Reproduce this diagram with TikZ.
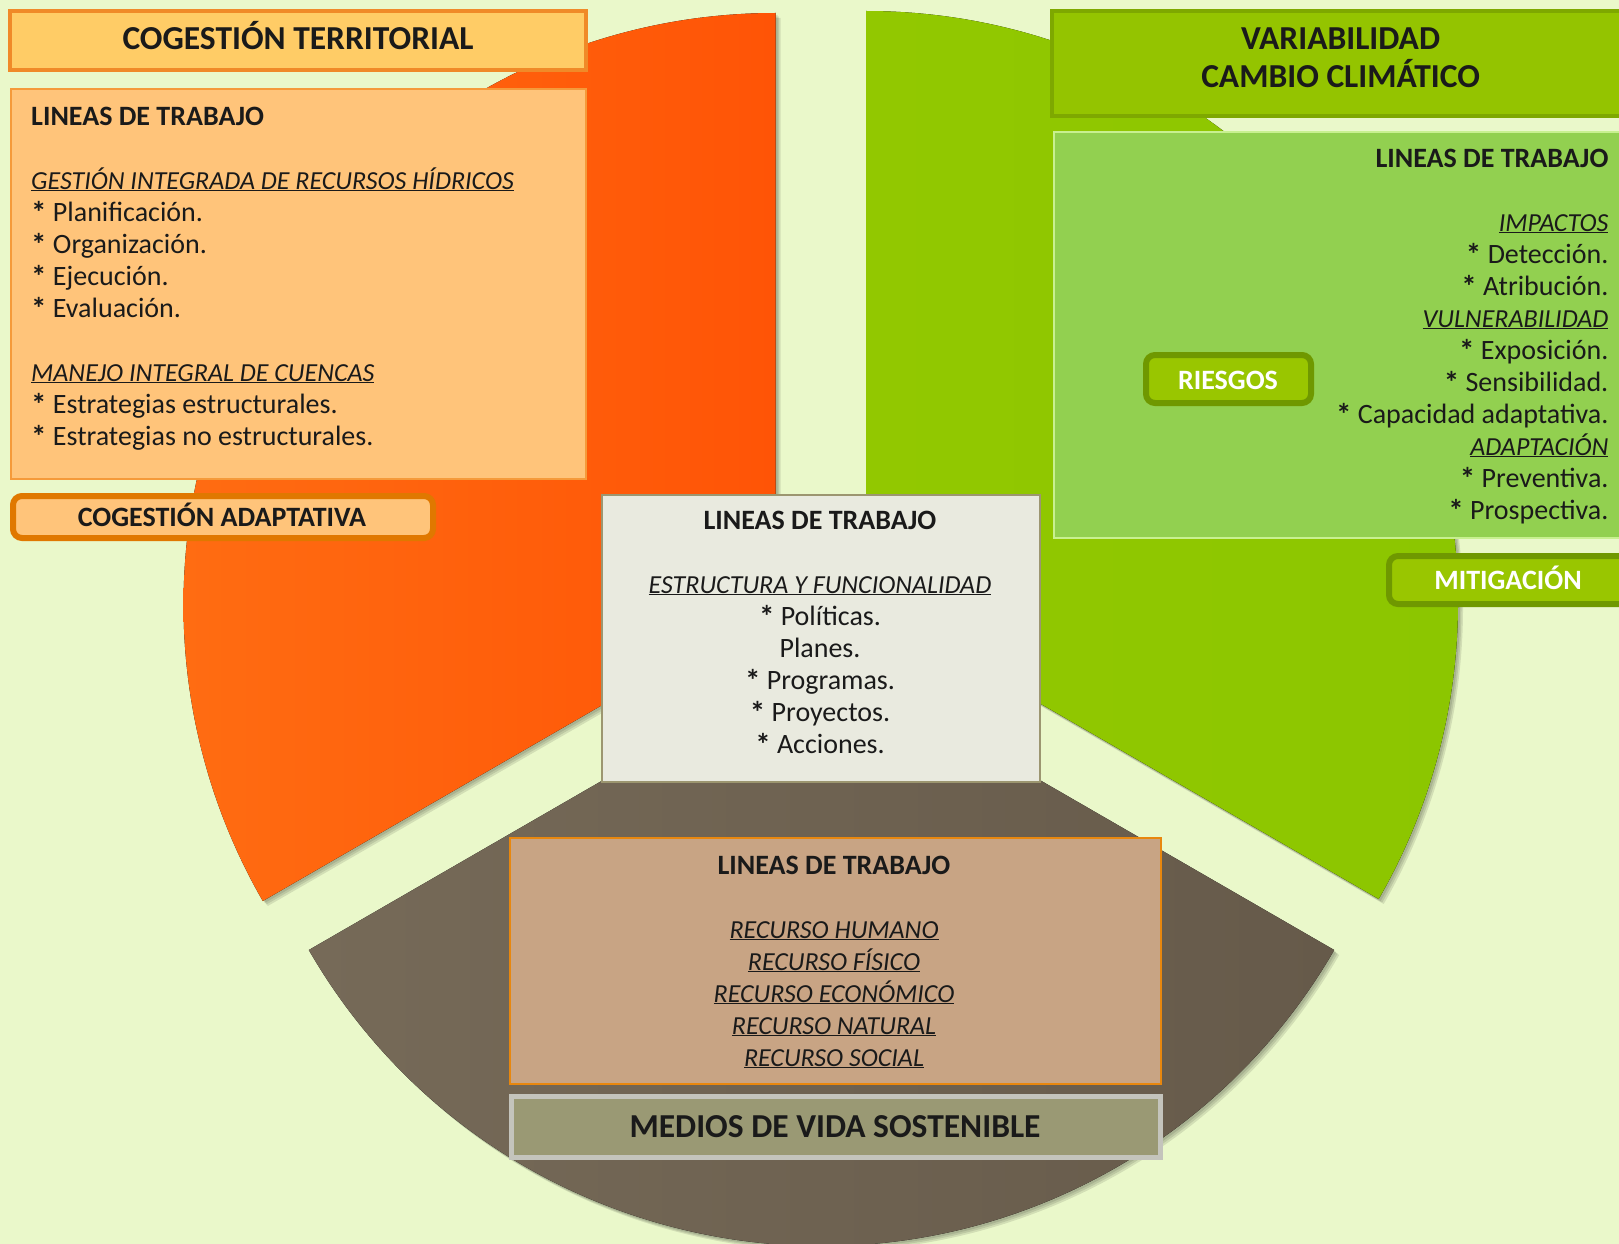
\documentclass[tikz,border=0pt]{standalone}
\usepackage{fontspec}
\setmainfont{Carlito}

\definecolor{bg}{RGB}{234,248,202}
\definecolor{oraL}{RGB}{255,108,18}
\definecolor{oraR}{RGB}{255,84,6}
\definecolor{grnL}{RGB}{146,200,0}
\definecolor{grnM}{RGB}{162,226,0}
\definecolor{grnR}{RGB}{140,198,0}
\definecolor{brnL}{RGB}{118,106,88}
\definecolor{brnR}{RGB}{102,90,74}
\definecolor{ttlfill}{RGB}{255,204,102}
\definecolor{ttlline}{RGB}{240,138,40}
\definecolor{peach}{RGB}{255,196,122}
\definecolor{peachline}{RGB}{245,154,58}
\definecolor{adaptline}{RGB}{224,120,0}
\definecolor{hdrfill}{RGB}{148,196,0}
\definecolor{hdrline}{RGB}{126,168,0}
\definecolor{lgreen}{RGB}{146,208,80}
\definecolor{lgreenline}{RGB}{200,240,144}
\definecolor{btnfill}{RGB}{153,198,0}
\definecolor{btnline}{RGB}{111,152,0}
\definecolor{ctrfill}{RGB}{233,234,223}
\definecolor{ctrline}{RGB}{156,150,112}
\definecolor{tan}{RGB}{200,164,132}
\definecolor{tanline}{RGB}{232,135,14}
\definecolor{olive}{RGB}{154,153,116}
\definecolor{oliveline}{RGB}{196,196,188}
\definecolor{ink}{RGB}{26,26,26}

% underlined italic subheading, set slightly narrower than the body text
\newcommand\undl[1]{\underline{\fontsize{26}{32}\selectfont\itshape #1}}
% heavier list bullet
\newcommand\bstar{\raisebox{-2.5pt}{\fontsize{31}{32}\selectfont\bfseries *}}
\lineskiplimit=-100pt

\tikzset{
  body/.style={inner sep=0pt, text=ink, font=\fontsize{28}{32}\selectfont},
  heading/.style={inner sep=0pt, text=ink, font=\bfseries\fontsize{33.5}{38}\selectfont},
  tag/.style={inner sep=0pt, text=ink, font=\bfseries\fontsize{28}{32}\selectfont},
  whitetag/.style={inner sep=0pt, text=white, font=\bfseries\fontsize{28}{32}\selectfont},
  shade/.style={fill=black, opacity=0.10},
}

\begin{document}
\begin{tikzpicture}[x=1pt,y=-1pt]
\useasboundingbox (0,0) rectangle (1619,1244);
\clip (0,0) rectangle (1619,1244);
\fill[bg] (0,0) rectangle (1619,1244);

% apexes of the three pie wedges
\coordinate (oc) at (775.5,605);
\coordinate (gc) at (866,603);
\coordinate (bc) at (821.5,654);

% soft shadows under the wedges
\foreach \s in {2,3.5,5}{
  \fill[shade] ([shift={(\s,\s)}]oc) -- ++(270:592) arc[start angle=270,end angle=150,radius=592] -- cycle;
  \fill[shade] ([shift={(\s,\s)}]gc) -- ++(270:592) arc[start angle=270,end angle=390,radius=592] -- cycle;
  \fill[shade] ([shift={(\s,\s)}]bc) -- ++(150:592) arc[start angle=150,end angle=30,radius=592] -- cycle;
}

% wedges
\fill[left color=oraL, right color=oraR] (oc) -- ++(270:592) arc[start angle=270,end angle=150,radius=592] -- cycle;
\fill[left color=grnL, middle color=grnM, right color=grnR] (gc) -- ++(270:592) arc[start angle=270,end angle=390,radius=592] -- cycle;
\fill[left color=brnL, right color=brnR] (bc) -- ++(150:592) arc[start angle=150,end angle=30,radius=592] -- cycle;

% orange side
\draw[fill=ttlfill, draw=ttlline, line width=3.5pt] (10,11) rectangle (586,70);
\draw[fill=peach, draw=peachline, line width=2pt] (11,89) rectangle (586,479);
\draw[fill=peach, draw=adaptline, line width=6pt, rounded corners=9pt] (13,496) rectangle (433,538);

\node[heading, anchor=base] (ttlO) at (298,50) {COGESTIÓN TERRITORIAL};
\node[body, anchor=base west, align=left] (txtO) at (31,445) {%
\textbf{LINEAS DE TRABAJO}\\[32pt]
\undl{GESTIÓN INTEGRADA DE RECURSOS HÍDRICOS}\\
\bstar{} Planificación.\\
\bstar{} Organización.\\
\bstar{} Ejecución.\\
\bstar{} Evaluación.\\[32pt]
\undl{MANEJO INTEGRAL DE CUENCAS}\\
\bstar{} Estrategias estructurales.\\
\bstar{} Estrategias no estructurales.};
\node[tag, anchor=base] (adapt) at (222,526) {COGESTIÓN ADAPTATIVA};

% green side
\draw[fill=hdrfill, draw=hdrline, line width=4pt] (1052,11) rectangle (1640,116);
\draw[fill=lgreen, draw=lgreenline, line width=2.5pt] (1054,132) rectangle (1640,538);
\draw[fill=btnfill, draw=btnline, line width=6pt, rounded corners=9pt] (1146,355) rectangle (1311,403);
\draw[fill=btnfill, draw=btnline, line width=6pt, rounded corners=9pt] (1389,556) rectangle (1660,604);

\node[heading, anchor=base, align=center] (ttlG) at (1340.6,88) {VARIABILIDAD\\CAMBIO CLIMÁTICO};
\node[body, anchor=base east, align=right] (txtG) at (1608.6,519) {%
\textbf{LINEAS DE TRABAJO}\\[32pt]
\undl{IMPACTOS}\\
\bstar{} Detección.\\
\bstar{} Atribución.\\
\undl{VULNERABILIDAD}\\
\bstar{} Exposición.\\
\bstar{} Sensibilidad.\\
\bstar{} Capacidad adaptativa.\\
\undl{ADAPTACIÓN}\\
\bstar{} Preventiva.\\
\bstar{} Prospectiva.};
\node[whitetag, anchor=base] (riesgos) at (1228,389) {RIESGOS};
\node[whitetag, anchor=base] (mitig) at (1508,589) {MITIGACIÓN};

% centre box
\draw[fill=ctrfill, draw=ctrline, line width=2.5pt] (602,495) rectangle (1040,782);
\node[body, anchor=base, align=center] (txtC) at (820,753) {%
\textbf{LINEAS DE TRABAJO}\\[32pt]
\undl{ESTRUCTURA Y FUNCIONALIDAD}\\
\bstar{} Políticas.\\
Planes.\\
\bstar{} Programas.\\
\bstar{} Proyectos.\\
\bstar{} Acciones.};

% brown side
\draw[fill=tan, draw=tanline, line width=2.5pt] (510,838) rectangle (1161,1084);
\draw[fill=olive, draw=oliveline, line width=5pt] (511,1096) rectangle (1160,1157);
\node[body, anchor=base, align=center] (txtB) at (834,1066) {%
\textbf{LINEAS DE TRABAJO}\\[32pt]
\undl{RECURSO HUMANO}\\
\undl{RECURSO FÍSICO}\\
\undl{RECURSO ECONÓMICO}\\
\undl{RECURSO NATURAL}\\
\undl{RECURSO SOCIAL}};
\node[heading, anchor=base] (medios) at (835,1137) {MEDIOS DE VIDA SOSTENIBLE};
\end{tikzpicture}
\end{document}
